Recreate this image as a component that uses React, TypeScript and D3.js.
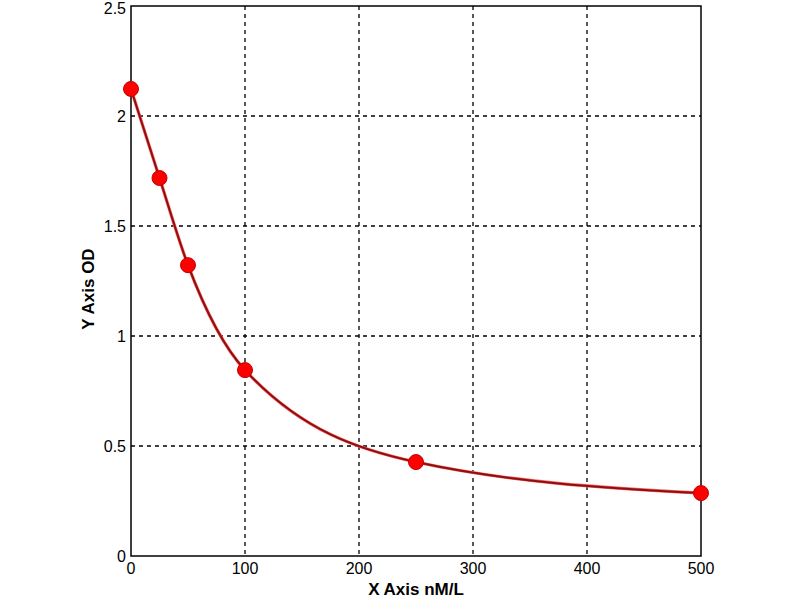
import React, { useRef, useEffect } from "react";
import * as d3 from "d3";

// standard concentrations (nM/L) and measured OD
const concentrations = [0, 25, 50, 100, 250, 500];
const odValues = [2.123, 1.718, 1.322, 0.845, 0.427, 0.286];

const xTicks = [0, 100, 200, 300, 400, 500];
const yTicks = [0, 0.5, 1, 1.5, 2, 2.5];

const App: React.FC = () => {
  const svgRef = useRef<SVGSVGElement | null>(null);

  useEffect(() => {
    const width = 800;
    const height = 600;
    const margin = { top: 6, right: 99, bottom: 44, left: 131 };

    const root = d3.select(svgRef.current);
    root.selectAll("*").remove();
    root.attr("width", width).attr("height", height);

    const innerW = width - margin.left - margin.right;
    const innerH = height - margin.top - margin.bottom;

    const svg = root
      .append("g")
      .attr("transform", `translate(${margin.left},${margin.top})`);

    const x = d3.scaleLinear().domain([0, 500]).range([0, innerW]);
    const y = d3.scaleLinear().domain([0, 2.5]).range([innerH, 0]);

    const font = "Arial, 'Liberation Sans', sans-serif";

    // frame
    svg
      .append("rect")
      .attr("width", innerW)
      .attr("height", innerH)
      .attr("fill", "white")
      .attr("stroke", "black")
      .attr("stroke-width", 1.5);

    // grid
    svg
      .selectAll(".gx")
      .data(xTicks.slice(1, -1))
      .join("line")
      .attr("x1", (d) => x(d))
      .attr("x2", (d) => x(d))
      .attr("y1", 0)
      .attr("y2", innerH)
      .attr("stroke", "black")
      .attr("stroke-width", 1.3)
      .attr("stroke-dasharray", "4,4");

    svg
      .selectAll(".gy")
      .data(yTicks.slice(1, -1))
      .join("line")
      .attr("x1", 0)
      .attr("x2", innerW)
      .attr("y1", (d) => y(d))
      .attr("y2", (d) => y(d))
      .attr("stroke", "black")
      .attr("stroke-width", 1.3)
      .attr("stroke-dasharray", "4,4");

    // tick labels
    svg
      .selectAll(".xt")
      .data(xTicks)
      .join("text")
      .attr("x", (d) => x(d))
      .attr("y", innerH + 18)
      .attr("text-anchor", "middle")
      .style("font-family", font)
      .style("font-size", "16px")
      .text((d) => d);

    // top label sits against the page edge, nudge it down a touch
    svg
      .selectAll(".yt")
      .data(yTicks)
      .join("text")
      .attr("x", -5)
      .attr("y", (d) => Math.max(y(d), 2))
      .attr("dy", "0.35em")
      .attr("text-anchor", "end")
      .style("font-family", font)
      .style("font-size", "16px")
      .text((d) => d);

    // axis titles
    svg
      .append("text")
      .attr("x", innerW / 2)
      .attr("y", innerH + 39)
      .attr("text-anchor", "middle")
      .style("font-family", font)
      .style("font-size", "17px")
      .style("font-weight", "bold")
      .text("X Axis nM/L");

    svg
      .append("text")
      .attr("transform", `translate(-37,${innerH / 2 + 8}) rotate(-90)`)
      .attr("text-anchor", "middle")
      .style("font-family", font)
      .style("font-size", "17px")
      .style("font-weight", "bold")
      .text("Y Axis OD");

    const data = concentrations.map((c, i) => ({ c, od: odValues[i] }));

    // fitted curve
    const line = d3
      .line<{ c: number; od: number }>()
      .x((d) => x(d.c))
      .y((d) => y(d.od))
      .curve(d3.curveMonotoneX);

    svg
      .append("path")
      .datum(data)
      .attr("fill", "none")
      .attr("stroke", "#ff6060")
      .attr("stroke-width", 3.2)
      .attr("d", line);

    svg
      .append("path")
      .datum(data)
      .attr("fill", "none")
      .attr("stroke", "#8b1010")
      .attr("stroke-width", 2)
      .attr("d", line);

    // markers
    svg
      .selectAll(".pt")
      .data(data)
      .join("circle")
      .attr("cx", (d) => x(d.c))
      .attr("cy", (d) => y(d.od))
      .attr("r", 7.5)
      .attr("fill", "#ff0000")
      .attr("stroke", "#c00000")
      .attr("stroke-width", 1);
  }, []);

  return (
    <div style={{ position: "fixed", left: 0, top: 0, background: "white" }}>
      <svg ref={svgRef}></svg>
    </div>
  );
};

export default App;
